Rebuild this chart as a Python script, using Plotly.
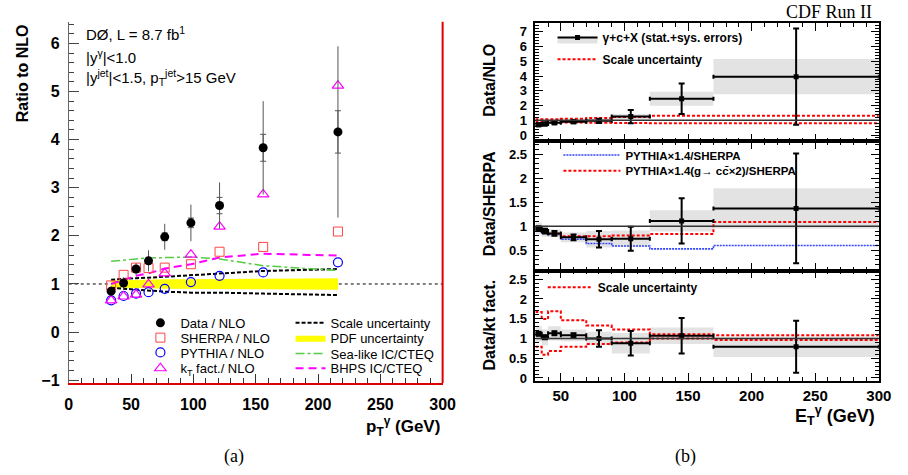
import plotly.graph_objects as go

W, H = 908, 475
SANS = "Liberation Sans"
SERIF = "Liberation Serif"

# ---------------- panel (a): D0 ratio to NLO ----------------
pt_a = [34, 44, 54, 64, 77, 98, 121, 156, 216]
data_nlo = [0.85, 1.02, 1.31, 1.48, 1.98, 2.27, 2.63, 3.83, 4.16]
data_tot_err = [0.10, 0.12, 0.12, 0.22, 0.27, 0.38, 0.48, 0.97, 1.78]
data_stat_err = [0.04, 0.05, 0.05, 0.06, 0.08, 0.10, 0.17, 0.28, 0.44]
sherpa_nlo = [0.97, 1.19, 1.34, 1.33, 1.34, 1.41, 1.67, 1.77, 2.09]
pythia_nlo = [0.66, 0.75, 0.80, 0.83, 0.90, 1.04, 1.17, 1.24, 1.45]
kt_nlo = [0.66, 0.74, 0.78, 0.99, 1.22, 1.61, 2.19, 2.86, 5.12]
scale_hi_a = [1.09, 1.11, 1.12, 1.13, 1.15, 1.18, 1.22, 1.27, 1.31]
scale_lo_a = [0.92, 0.90, 0.88, 0.86, 0.84, 0.82, 0.82, 0.80, 0.77]
pdf_hi = [1.07, 1.08, 1.09, 1.09, 1.10, 1.10, 1.11, 1.11, 1.12]
pdf_lo = [0.93, 0.92, 0.91, 0.91, 0.90, 0.90, 0.89, 0.89, 0.88]
sea_ic = [1.47, 1.50, 1.52, 1.54, 1.55, 1.56, 1.52, 1.38, 1.28]
bhps_ic = [1.00, 1.08, 1.17, 1.22, 1.32, 1.41, 1.55, 1.63, 1.59]

# ---------------- panel (b): CDF gamma + c ----------------
et_edges = [30, 35, 40, 50, 70, 90, 120, 170, 300]
# Data / NLO
b_nlo = [0.70, 0.75, 0.83, 0.90, 0.96, 1.25, 2.46, 3.96]
b_nlo_err = [0.10, 0.10, 0.10, 0.10, 0.14, 0.45, 1.03, 3.27]
b_nlo_sys = [0.09, 0.09, 0.09, 0.10, 0.12, 0.17, 0.47, 1.20]
b_nlo_scale_hi = [1.07, 1.07, 1.07, 1.10, 1.15, 1.23, 1.30, 1.30]
b_nlo_scale_lo = [0.90, 0.88, 0.87, 0.85, 0.83, 0.82, 0.80, 0.80]
# Data / SHERPA
b_sh = [0.95, 0.90, 0.85, 0.77, 0.73, 0.74, 1.11, 1.37]
b_sh_err = [0.05, 0.05, 0.05, 0.06, 0.17, 0.25, 0.47, 1.14]
b_sh_sys = [0.12, 0.12, 0.08, 0.10, 0.17, 0.17, 0.22, 0.42]
py14_sh = [0.93, 0.86, 0.83, 0.73, 0.64, 0.59, 0.53, 0.60]
py14g_sh = [0.95, 0.88, 0.85, 0.79, 0.79, 0.81, 0.84, 1.09]
# Data / kt factorization
b_kt = [1.12, 1.03, 1.13, 1.08, 1.00, 0.88, 1.07, 0.79]
b_kt_err = [0.05, 0.05, 0.05, 0.05, 0.21, 0.31, 0.45, 0.66]
b_kt_sys = [0.20, 0.20, 0.18, 0.15, 0.17, 0.26, 0.21, 0.26]
b_kt_scale_hi = [1.67, 1.49, 1.69, 1.46, 1.33, 1.23, 1.11, 1.08]
b_kt_scale_lo = [0.79, 0.59, 0.68, 0.79, 0.86, 0.90, 1.00, 0.96]

et_c = [(a + b) / 2 for a, b in zip(et_edges[:-1], et_edges[1:])]
et_hw = [(b - a) / 2 for a, b in zip(et_edges[:-1], et_edges[1:])]
et_w = [b - a for a, b in zip(et_edges[:-1], et_edges[1:])]


def step(v):
    return list(v) + [v[-1]]


fig = go.Figure()

# ---- panel (a) traces
fig.add_trace(go.Scatter(
    x=pt_a + pt_a[::-1], y=pdf_hi + pdf_lo[::-1], fill="toself",
    fillcolor="#ffff00", line=dict(width=0), mode="lines",
    name="PDF uncertainty", legend="legend6", xaxis="x", yaxis="y"))
fig.add_trace(go.Scatter(
    x=pt_a, y=scale_hi_a, mode="lines", line=dict(color="black", width=2, dash="4px,2px"),
    name="Scale uncertainty", legend="legend5", xaxis="x", yaxis="y"))
fig.add_trace(go.Scatter(
    x=pt_a, y=scale_lo_a, mode="lines", line=dict(color="black", width=2, dash="4px,2px"),
    showlegend=False, xaxis="x", yaxis="y"))
fig.add_trace(go.Scatter(
    x=pt_a, y=sea_ic, mode="lines", line=dict(color="#55cc44", width=1.5, dash="dashdot"),
    name="Sea-like IC/CTEQ", legend="legend7", xaxis="x", yaxis="y"))
fig.add_trace(go.Scatter(
    x=pt_a, y=bhps_ic, mode="lines", line=dict(color="#ff00ff", width=2, dash="8px,5px"),
    name="BHPS IC/CTEQ", legend="legend8", xaxis="x", yaxis="y"))
fig.add_trace(go.Scatter(
    x=pt_a, y=sherpa_nlo, mode="markers",
    marker=dict(symbol="square-open", size=9, color="#ff4444", line=dict(width=1)),
    name="SHERPA / NLO", legend="legend2", xaxis="x", yaxis="y"))
fig.add_trace(go.Scatter(
    x=pt_a, y=pythia_nlo, mode="markers",
    marker=dict(symbol="circle-open", size=9, color="#0000ff", line=dict(width=1.2)),
    name="PYTHIA / NLO", legend="legend3", xaxis="x", yaxis="y"))
fig.add_trace(go.Scatter(
    x=pt_a, y=kt_nlo, mode="markers",
    marker=dict(symbol="triangle-up-open", size=10, color="#ff00ff", line=dict(width=1.2)),
    name="k<sub>T</sub> fact./ NLO", legend="legend4", xaxis="x", yaxis="y"))
fig.add_trace(go.Scatter(
    x=pt_a, y=data_nlo, mode="markers", marker=dict(size=1, color="rgba(0,0,0,0)"),
    error_y=dict(type="data", array=data_tot_err, width=0, thickness=1, color="#555555"),
    showlegend=False, xaxis="x", yaxis="y"))
fig.add_trace(go.Scatter(
    x=pt_a, y=data_nlo, mode="markers", marker=dict(symbol="circle", size=9, color="black"),
    error_y=dict(type="data", array=data_stat_err, width=3, thickness=1, color="#555555"),
    name="Data / NLO", legend="legend", xaxis="x", yaxis="y"))

# ---- panel (b) traces
red_dash = dict(color="#ff0000", width=2, dash="3px,2px")
panels = [
    ("x2", "y2", b_nlo, b_nlo_err, b_nlo_sys),
    ("x3", "y3", b_sh, b_sh_err, b_sh_sys),
    ("x4", "y4", b_kt, b_kt_err, b_kt_sys),
]
for xa, ya, v, e, s in panels:
    fig.add_trace(go.Bar(
        x=et_c, y=[2 * q for q in s], base=[a - q for a, q in zip(v, s)], width=et_w,
        marker=dict(color="#e3e3e3", line=dict(width=0)), showlegend=False,
        xaxis=xa, yaxis=ya))

fig.add_trace(go.Scatter(x=et_edges, y=step(b_nlo_scale_hi), mode="lines", line_shape="hv",
                         line=red_dash, name="<b>Scale uncertainty</b>", legend="legend10",
                         xaxis="x2", yaxis="y2"))
fig.add_trace(go.Scatter(x=et_edges, y=step(b_nlo_scale_lo), mode="lines", line_shape="hv",
                         line=red_dash, showlegend=False, xaxis="x2", yaxis="y2"))
fig.add_trace(go.Scatter(x=et_edges, y=step(py14_sh), mode="lines", line_shape="hv",
                         line=dict(color="#3344ff", width=1.6, dash="2px,1px"),
                         name="<b>PYTHIA×1.4/SHERPA</b>", legend="legend11",
                         xaxis="x3", yaxis="y3"))
fig.add_trace(go.Scatter(x=et_edges, y=step(py14g_sh), mode="lines", line_shape="hv",
                         line=red_dash,
                         name="<b>PYTHIA×1.4(g→ cc\u0304×2)/SHERPA</b>", legend="legend12",
                         xaxis="x3", yaxis="y3"))
fig.add_trace(go.Scatter(x=et_edges, y=step(b_kt_scale_hi), mode="lines", line_shape="hv",
                         line=red_dash, name="<b>Scale uncertainty</b>", legend="legend13",
                         xaxis="x4", yaxis="y4"))
fig.add_trace(go.Scatter(x=et_edges, y=step(b_kt_scale_lo), mode="lines", line_shape="hv",
                         line=red_dash, showlegend=False, xaxis="x4", yaxis="y4"))

for xa, ya, v, e, s in panels:
    fig.add_trace(go.Scatter(
        x=et_c, y=v, mode="markers", marker=dict(symbol="square", size=5, color="black"),
        error_x=dict(type="data", array=et_hw, width=2, thickness=2, color="black"),
        error_y=dict(type="data", array=e, width=3, thickness=2, color="black"),
        showlegend=False, xaxis=xa, yaxis=ya))

# legend-only entry for the data key
fig.add_trace(go.Scatter(
    x=[None], y=[None], mode="lines+markers", fill="toself", fillcolor="#e3e3e3",
    line=dict(color="black", width=2), marker=dict(symbol="square", size=5, color="black"),
    name="<b>γ+c+X (stat.+sys. errors)</b>", legend="legend9", xaxis="x2", yaxis="y2"))

# ---------------- layout ----------------
def dx(p):
    return p / W


def dy(p):
    return 1 - p / H


def leg(xpx, ypx, size, itemwidth=30):
    return dict(x=dx(xpx), y=dy(ypx), xanchor="left", yanchor="middle",
                bgcolor="rgba(0,0,0,0)", borderwidth=0, itemwidth=itemwidth,
                font=dict(family=SANS, size=size, color="black"))


layout_legends = {
    "legend": leg(139, 327, 13),
    "legend2": leg(139, 342, 13),
    "legend3": leg(139, 357, 13),
    "legend4": leg(139, 373, 13),
    "legend5": leg(292, 327, 13),
    "legend6": leg(292, 342, 13),
    "legend7": leg(292, 358, 13),
    "legend8": leg(292, 373, 13),
    "legend9": leg(559, 38, 12, 40),
    "legend10": leg(559, 60, 12, 40),
    "legend11": leg(565, 157, 11.5, 57),
    "legend12": leg(565, 173, 11.5, 57),
    "legend13": leg(549, 291, 12, 45),
}

tickfont_a = dict(family=SANS, size=16, color="black", weight="bold")
tickfont_b = dict(family=SANS, size=13, color="black", weight="bold")

xb_common = dict(range=[30, 300], dtick=50, tick0=0, ticks="inside", ticklen=8,
                 tickcolor="black", showline=True, linecolor="black", linewidth=1.5,
                 mirror="allticks", showgrid=False, zeroline=False,
                 minor=dict(dtick=10, ticks="inside", ticklen=4, tickcolor="black"),
                 domain=[dx(541.5), dx(891.5)])
yb_common = dict(ticks="inside", ticklen=8, tickcolor="black", showline=True,
                 linecolor="black", linewidth=1.5, mirror="allticks", showgrid=False,
                 zeroline=False, tickfont=tickfont_b, ticklabelstandoff=4)

fig.update_layout(
    width=W, height=H, margin=dict(l=0, r=0, t=0, b=0),
    paper_bgcolor="white", plot_bgcolor="white", barmode="overlay",
    xaxis=dict(domain=[dx(66), dx(447)], range=[0, 300], dtick=50, ticks="inside",
               ticklen=9, tickcolor="#333", showline=True, linecolor="#dd0000", linewidth=2,
               showgrid=False, zeroline=False, tickfont=tickfont_a, ticklabelstandoff=6,
               minor=dict(dtick=10, ticks="inside", ticklen=5, tickcolor="#333")),
    yaxis=dict(domain=[dy(388), dy(22)], range=[-1.06, 6.45], dtick=1, tick0=0,
               ticks="inside", ticklen=10, tickcolor="#444", showline=True,
               linecolor="#666", linewidth=1, showgrid=False, zeroline=False,
               tickfont=tickfont_a, ticklabelstandoff=5,
               minor=dict(dtick=0.2, ticks="inside", ticklen=5, tickcolor="#444")),
    xaxis2=dict(anchor="y2", showticklabels=False, **xb_common),
    xaxis3=dict(anchor="y3", showticklabels=False, matches="x2", **xb_common),
    xaxis4=dict(anchor="y4", showticklabels=True, matches="x2",
                tickfont=dict(family=SANS, size=15, color="black", weight="bold"),
                **xb_common),
    yaxis2=dict(anchor="x2", domain=[dy(143.3), dy(23.3)], range=[-0.44, 7.6], dtick=1,
                minor=dict(dtick=0.2, ticks="inside", ticklen=4, tickcolor="black"),
                **yb_common),
    yaxis3=dict(anchor="x3", domain=[dy(274), dy(143.3)], range=[0.08, 2.76], dtick=0.5,
                minor=dict(dtick=0.1, ticks="inside", ticklen=4, tickcolor="black"),
                **yb_common),
    yaxis4=dict(anchor="x4", domain=[dy(386), dy(274)], range=[-0.08, 2.72], dtick=0.5,
                tick0=0,
                minor=dict(dtick=0.1, ticks="inside", ticklen=4, tickcolor="black"),
                **yb_common),
    **layout_legends,
)

# reference lines and frame pieces
fig.add_shape(type="line", xref="x domain", yref="y", x0=0, x1=1, y0=1, y1=1,
              line=dict(color="black", width=1, dash="dot"), layer="below")
fig.add_shape(type="line", xref="x domain", yref="y domain", x0=1, x1=1, y0=0, y1=1,
              line=dict(color="#dd0000", width=2))
for xa, ya in [("x2", "y2"), ("x3", "y3"), ("x4", "y4")]:
    fig.add_shape(type="line", xref=xa + " domain", yref=ya, x0=0, x1=1, y0=1, y1=1,
                  line=dict(color="#333333", width=1.5), layer="above")

# text
def ann(text, xpx, ypx, size, family=SANS, bold=False, xanchor="left", angle=0):
    fig.add_annotation(text=text, x=dx(xpx), y=dy(ypx), xref="paper", yref="paper",
                       showarrow=False, xanchor=xanchor, yanchor="middle", textangle=angle,
                       font=dict(family=family, size=size, color="black",
                                 weight="bold" if bold else "normal"))


ann("DØ, L = 8.7 fb<sup>1</sup>", 82, 34, 15)
ann("|y<sup>γ</sup>|&lt;1.0", 82, 57, 15)
ann("|y<sup>jet</sup>|&lt;1.5, p<sub>T</sub><sup>jet</sup>&gt;15 GeV", 82, 78, 15)
ann("Ratio to NLO", 18.5, 74, 16, bold=True, xanchor="center", angle=-90)
ann("p<sub>T</sub><sup>γ</sup> (GeV)", 446, 432, 17, bold=True, xanchor="right")
ann("(a)", 234, 462, 18, family=SERIF, xanchor="center")
ann("(b)", 695, 462, 18, family=SERIF, xanchor="center")
ann("CDF Run II", 887, 12, 18, family=SERIF, xanchor="right")
ann("Data/NLO", 495, 81, 16, bold=True, xanchor="center", angle=-90)
ann("Data/SHERPA", 495, 206, 16, bold=True, xanchor="center", angle=-90)
ann("Data/kt fact.", 495, 329, 16, bold=True, xanchor="center", angle=-90)
ann("E<sub>T</sub><sup>γ</sup> (GeV)", 890, 421, 18, bold=True, xanchor="right")

fig.write_html("out.html")
